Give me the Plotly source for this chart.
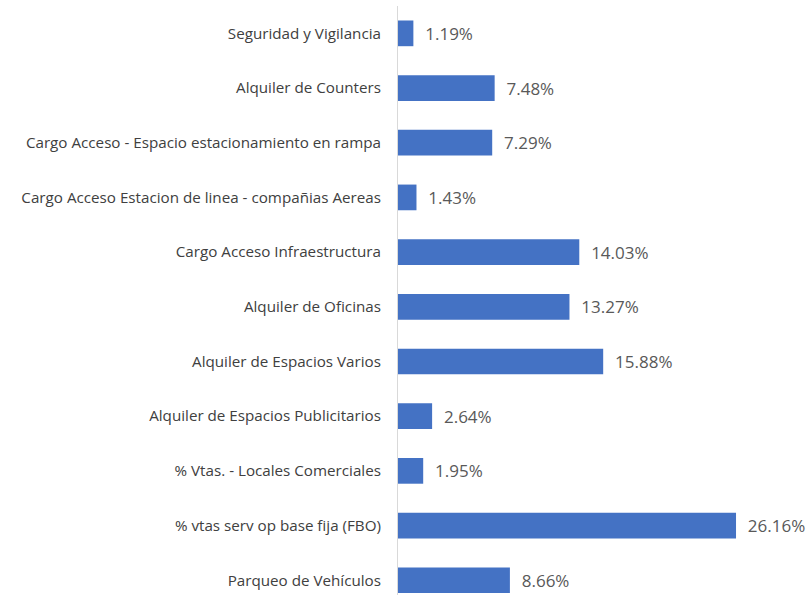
import plotly.graph_objects as go

categories = [
    "Seguridad y Vigilancia",
    "Alquiler de Counters",
    "Cargo Acceso - Espacio estacionamiento en rampa",
    "Cargo Acceso Estacion de linea - compañias Aereas",
    "Cargo Acceso Infraestructura",
    "Alquiler de Oficinas",
    "Alquiler de Espacios Varios",
    "Alquiler de Espacios Publicitarios",
    "% Vtas. - Locales Comerciales",
    "% vtas serv op base fija (FBO)",
    "Parqueo de Vehículos",
]
values = [1.19, 7.48, 7.29, 1.43, 14.03, 13.27, 15.88, 2.64, 1.95, 26.16, 8.66]

font_family = "Open Sans, Liberation Sans, Arial, sans-serif"

fig = go.Figure(go.Bar(
    x=values,
    y=categories,
    orientation="h",
    marker=dict(color="#4472C4", line=dict(width=0)),
    text=["\u00a0\u00a0" + f"{v:.2f}%" for v in values],
    textposition="outside",
    cliponaxis=False,
    textfont=dict(family=font_family, size=17, color="#595959"),
    hoverinfo="skip",
))

fig.update_layout(
    width=812, height=595,
    margin=dict(l=398, r=0, t=6, b=0, autoexpand=False),
    paper_bgcolor="white", plot_bgcolor="white",
    bargap=0.53,
    showlegend=False,
    font=dict(family=font_family, size=13, color="#404040"),
    uniformtext=dict(mode=False),
)
fig.update_xaxes(range=[0, 32.04], visible=False, fixedrange=True, automargin=False)
fig.update_yaxes(
    type="category",
    automargin=False,
    range=[10.27, -0.5],
    showline=True, linecolor="#D9D9D9", linewidth=1,
    showgrid=False, ticks="", ticklabelstandoff=13,
    tickfont=dict(family=font_family, size=15.2, color="#404040"),
    fixedrange=True,
)

fig.write_html(
    "out.html",
    config={"displayModeBar": False},
    post_script="document.body.style.margin='0';",
)
